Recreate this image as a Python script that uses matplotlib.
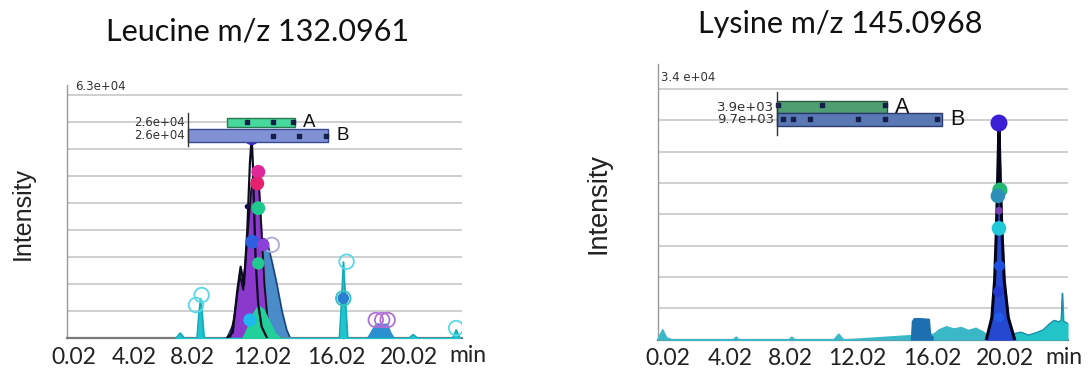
import numpy as np
import matplotlib
matplotlib.use("Agg")
import matplotlib.pyplot as plt

# ---------------------------------------------------------------- data ----
tick_minutes = [0.02, 4.02, 8.02, 12.02, 16.02, 20.02]
tick_labels = ["0.02", "4.02", "8.02", "12.02", "16.02", "20.02"]

# Leucine m/z 132.0961 -- extracted ion traces (time in min, intensity)
leu_total_t = [10.0, 10.35, 10.6, 10.8, 10.99, 11.18, 11.33, 11.43, 11.5, 11.58, 11.66, 11.8, 12.0, 12.3]
leu_total_i = [0, 1500, 12000, 18550, 13800, 28000, 45400, 52000, 45000, 32000, 20000, 9000, 3000, 0]

leu_purple_t = [10.2, 10.45, 10.75, 10.95, 11.2, 11.45, 11.7, 11.85, 12.0, 12.15, 12.3, 12.45, 12.7]
leu_purple_i = [0, 6000, 16500, 12500, 27000, 41000, 43100, 39000, 27000, 14000, 6000, 2000, 0]

leu_wide_t = [10.0, 10.4, 10.8, 11.1, 11.4, 11.7, 12.0, 12.27, 12.55, 12.81, 13.1, 13.35, 13.55]
leu_wide_i = [0, 4000, 12000, 20000, 25000, 26500, 26000, 25500, 20000, 14300, 7000, 2200, 0]

leu_green_t = [10.9, 11.2, 11.5, 11.8, 12.1, 12.4, 12.7, 13.0]
leu_green_i = [0, 3000, 6500, 8500, 7500, 4500, 1500, 0]

leu_minor_t = [6.9, 7.2, 7.5, 8.3, 8.4, 8.5, 8.6, 8.7, 16.2, 16.3, 16.42, 16.55, 16.65,
               20.0, 20.24, 20.5, 22.4, 22.6, 22.8]
leu_minor_i = [0, 1400, 0, 0, 6000, 10360, 6000, 0, 0, 8000, 19800, 8000, 0,
               0, 1000, 0, 0, 2200, 0]

leu_cluster_t = [17.7, 17.9, 18.1, 18.3, 18.5, 18.8, 19.0, 19.2]
leu_cluster_i = [0, 1500, 3200, 3900, 3600, 3800, 1500, 0]

leu_dot_t = [11.43, 11.81, 11.75, 11.81, 11.18, 11.47, 12.09, 11.81, 11.33, 16.42]
leu_dot_i = [52000, 43100, 40100, 33700, 34100, 25000, 24200, 19400, 4740, 10360]
leu_dot_c = ["#3a1fd4", "#e0289a", "#e5206e", "#1fc98e", "#101050", "#2f5fe0",
             "#8b40d8", "#22c98f", "#20b8f0", "#2a7fd0"]
leu_dot_s = [120, 100, 100, 100, 14, 100, 80, 80, 90, 70]

leu_ring_t = [8.25, 8.57, 12.55, 16.6, 16.42, 18.2, 18.55, 18.85, 22.6]
leu_ring_i = [8620, 11200, 24200, 19840, 10360, 4740, 4740, 4740, 2660]
leu_ring_c = ["#58d8e8", "#58d8e8", "#b0a8d8", "#58d8e8", "#30c0c0",
              "#b070d8", "#b070d8", "#b070d8", "#58d8e8"]

leu_bar_start = [10.02, 7.74]
leu_bar_end = [13.80, 15.59]
leu_bar_low = [54730, 50880]
leu_bar_high = [57060, 54250]
leu_bar_value = ["2.6e+04", "2.6e+04"]
leu_bar_dot_t = [11.15, 12.63, 13.7, 12.63, 14.0, 15.46]
leu_bar_dot_i = [55900, 55900, 55900, 52500, 52500, 52500]

# Lysine m/z 145.0968
lys_peak_t = [19.0, 19.3, 19.45, 19.55, 19.62, 19.69, 19.76, 19.85, 19.98, 20.2, 20.55]
lys_peak_i = [0, 3000, 8000, 15000, 22000, 29400, 22000, 15000, 8000, 3000, 0]

lys_block_t = [14.9, 14.95, 15.05, 15.3, 15.6, 15.85, 15.92, 16.05]
lys_block_i = [0, 2500, 2900, 2900, 2850, 2800, 600, 400]

lys_noise_t = [-0.7, -0.55, -0.35, -0.1, 0.3, 4.2, 4.4, 4.6, 7.9, 8.1, 8.3,
               10.6, 10.9, 11.2, 16.1, 16.4, 16.8, 17.2, 17.6, 18.0, 18.4, 18.8, 19.05]
lys_noise_i = [0, 600, 1400, 300, 0, 0, 400, 0, 0, 400, 0,
               0, 800, 0, 800, 1400, 1800, 1500, 1700, 1300, 1600, 1100, 600]

lys_tail_t = [20.5, 20.9, 21.3, 21.7, 22.1, 22.4, 22.7, 23.0, 23.1, 23.16, 23.22, 23.44]
lys_tail_i = [800, 1000, 600, 900, 1300, 2000, 2600, 2400, 2700, 6300, 2500, 2200]

lys_dot_t = [19.69, 19.74, 19.63, 19.69, 19.69, 19.72, 19.66, 19.7]
lys_dot_i = [29400, 20300, 19500, 17500, 15100, 10000, 6500, 3000]
lys_dot_c = ["#3a1fd4", "#22b872", "#2e8fb8", "#7a3fb0", "#20c8d8",
             "#1d4fe0", "#2238d0", "#1f5ae8"]
lys_dot_s = [150, 120, 110, 30, 110, 60, 60, 50]

lys_bar_start = [7.15, 7.15]
lys_bar_end = [13.62, 16.57]
lys_bar_low = [30760, 28990]
lys_bar_high = [32390, 30760]
lys_bar_value = ["3.9e+03", "9.7e+03"]
lys_bar_dot_t = [7.22, 9.91, 13.49, 7.55, 8.2, 9.21, 12.07, 13.49, 16.28]
lys_bar_dot_i = [31900, 31900, 31900, 29950, 29950, 29950, 29950, 29950, 29950]

# ------------------------------------------------------------- helpers ----
def piecewise_scale(frac):
    """Piecewise-linear time axis so that each tick label sits at frac."""
    m = np.asarray(tick_minutes, float)
    p = np.asarray(frac, float)

    def _map(v, xs, ys):
        v = np.asarray(v, float)
        shape = v.shape
        v = v.ravel()
        out = np.interp(v, xs, ys)
        lo = v < xs[0]
        hi = v > xs[-1]
        out[lo] = ys[0] + (v[lo] - xs[0]) * (ys[1] - ys[0]) / (xs[1] - xs[0])
        out[hi] = ys[-1] + (v[hi] - xs[-1]) * (ys[-1] - ys[-2]) / (xs[-1] - xs[-2])
        return out.reshape(shape)

    return (lambda v: _map(v, m, p)), (lambda v: _map(v, p, m))


def setup_axes(ax, frac, ytop, grid_step, n_grid):
    fwd, inv = piecewise_scale(frac)
    ax.set_xscale("function", functions=(fwd, inv))
    ax.set_xlim(float(inv(0.0)), float(inv(1.0)))
    ax.set_ylim(0, ytop)
    ax.set_xticks(tick_minutes, labels=tick_labels)
    ax.set_yticks([grid_step * k for k in range(n_grid + 1)])
    ax.set_yticklabels([])
    ax.tick_params(axis="both", length=0)
    ax.tick_params(axis="x", pad=6, labelsize=16.5, labelcolor="#222222")
    for lab in ax.get_xticklabels():
        lab.set_family("Lato")
    ax.grid(axis="y", color="#cccccc", linewidth=1.3)
    ax.set_axisbelow(True)
    for side in ("top", "right"):
        ax.spines[side].set_visible(False)
    ax.spines["left"].set_color("#9a9a9a")
    ax.spines["left"].set_linewidth(1.0)
    ax.spines["bottom"].set_color("#7a7a7a")
    ax.spines["bottom"].set_linewidth(1.6)


def draw_bars(ax, start, end, low, high, colors, edges, names, values,
              name_size, value_size, dot_t, dot_i):
    for s, e, lo, hi, c, ec in zip(start, end, low, high, colors, edges):
        ax.bar(s, hi - lo, width=e - s, bottom=lo, align="edge",
               color=c, edgecolor=ec, linewidth=1.0, zorder=6)
    ax.scatter(dot_t, dot_i, s=8, marker="s", color="#15204a", zorder=7)
    x0 = min(start)
    ax.plot([x0, x0], [min(low) - 1200, max(high) + 1200], color="#333333",
            linewidth=1.0, zorder=7)
    for e, lo, hi, n in zip(end, low, high, names):
        ax.annotate(n, (e, (lo + hi) / 2), xytext=(6, 0), textcoords="offset points",
                    ha="left", va="center", fontsize=name_size,
                    family="Liberation Sans", color="#111111", zorder=8)
    for lo, hi, v in zip(low, high, values):
        ax.annotate(v, (x0, (lo + hi) / 2), xytext=(-2, 0), textcoords="offset points",
                    ha="right", va="center", fontsize=value_size,
                    family="DejaVu Sans", color="#333333", zorder=8)


# -------------------------------------------------------------- figure ----
W, H = 1091, 370
fig = plt.figure(figsize=(W / 100, H / 100), dpi=100)


def fx(px):
    return px / W


def fy(py):
    return 1 - py / H


# Leucine panel
axL = fig.add_axes([fx(67), fy(338.3), fx(461.7) - fx(67), fy(85) - fy(338.3)])
setup_axes(axL, [0.0165, 0.1697, 0.3167, 0.4940, 0.6815, 0.8665],
           63000 * 253.3 / 243.3, 7000, 9)

axL.fill_between(leu_wide_t, leu_wide_i, color="#3f86c6", alpha=0.95, zorder=2)
axL.plot(leu_wide_t, leu_wide_i, color="#1d3d70", linewidth=1.0, zorder=2)
axL.fill_between(leu_purple_t, leu_purple_i, color="#8b38cc", zorder=3)
axL.plot(leu_purple_t, leu_purple_i, color="#111111", linewidth=1.3, zorder=3)
axL.fill_between(leu_green_t, leu_green_i, color="#22d09a", zorder=4)
axL.fill_between(leu_cluster_t, leu_cluster_i, color="#2a90d0", zorder=3)
axL.fill_between(leu_minor_t, leu_minor_i, color="#1fc6cf", zorder=3)
axL.plot(leu_minor_t, leu_minor_i, color="#16a8b4", linewidth=1.0, zorder=3)
axL.plot(leu_total_t, leu_total_i, color="#0b0b20", linewidth=1.6, zorder=5)
axL.scatter(leu_ring_t, leu_ring_i, s=110, facecolors="none",
            edgecolors=leu_ring_c, linewidths=1.3, zorder=5)
axL.scatter(leu_dot_t, leu_dot_i, s=leu_dot_s, c=leu_dot_c, zorder=6, linewidths=0)

draw_bars(axL, leu_bar_start, leu_bar_end, leu_bar_low, leu_bar_high,
          ["#46d89c", "#8191d6"], ["#2a7a50", "#3a4a90"], ["A", "B"], leu_bar_value,
          13.5, 8.5, leu_bar_dot_t, leu_bar_dot_i)

fig.text(fx(75), fy(87), "6.3e+04", fontsize=8.5, family="DejaVu Sans",
         color="#333333", ha="left", va="center")

# Lysine panel
axR = fig.add_axes([fx(658), fy(339.5), fx(1068) - fx(658), fy(64) - fy(339.5)])
setup_axes(axR, [0.0244, 0.1756, 0.3220, 0.4854, 0.6683, 0.8463],
           34000 * 275.5 / 250.3, 4250, 8)

axR.fill_between(lys_noise_t, lys_noise_i, color="#3ab8c8", zorder=3)
axR.fill_between(lys_tail_t, lys_tail_i, color="#22c4c8", zorder=3)
axR.plot(lys_tail_t, lys_tail_i, color="#1a8aa8", linewidth=0.9, zorder=3)
axR.fill_between(lys_block_t, lys_block_i, color="#1e6fb0", zorder=3)
axR.fill_between(lys_peak_t, lys_peak_i, color="#2548d0", zorder=4)
axR.plot(lys_peak_t, lys_peak_i, color="#05051a", linewidth=2.2, zorder=5)
axR.scatter(lys_dot_t, lys_dot_i, s=lys_dot_s, c=lys_dot_c, zorder=6, linewidths=0)

draw_bars(axR, lys_bar_start, lys_bar_end, lys_bar_low, lys_bar_high,
          ["#4f9e72", "#5a78b4"], ["#2c5a40", "#2a3c70"], ["A", "B"], lys_bar_value,
          15.5, 9.5, lys_bar_dot_t, lys_bar_dot_i)

fig.text(fx(661), fy(77.5), "3.4 e+04", fontsize=8.5, family="DejaVu Sans",
         color="#333333", ha="left", va="center")

# Titles, axis names and time unit
fig.text(fx(257.5), fy(31), "Leucine m/z 132.0961", fontsize=22, family="Lato",
         color="#111111", ha="center", va="center")
fig.text(fx(840), fy(24), "Lysine m/z 145.0968", fontsize=22, family="Lato",
         color="#111111", ha="center", va="center")
fig.text(fx(23), fy(213), "Intensity", rotation=90, fontsize=18,
         family="Liberation Sans", color="#222222", ha="center", va="center")
fig.text(fx(598), fy(204), "Intensity", rotation=90, fontsize=19.5,
         family="Liberation Sans", color="#222222", ha="center", va="center")
fig.text(fx(468), fy(356), "min", fontsize=16.5, family="Lato",
         color="#222222", ha="center", va="center")
fig.text(fx(1064), fy(357), "min", fontsize=16.5, family="Lato",
         color="#222222", ha="center", va="center")

fig.savefig("out.png", dpi=100)
